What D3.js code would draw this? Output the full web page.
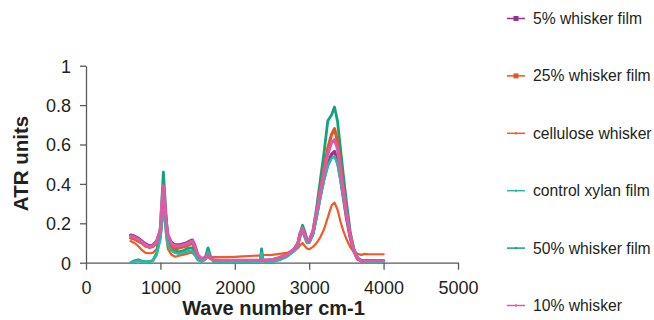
<!DOCTYPE html>
<html><head><meta charset="utf-8">
<script src="https://cdn.jsdelivr.net/npm/d3@7"></script>
<style>body{margin:0;background:#fff}svg{display:block;font-family:"Liberation Sans",Arial,sans-serif}</style>
</head><body><svg id="c" width="654" height="320"></svg>
<script>
const wavenumbers = [600,650,700,750,800,850,900,950,1000,1020,1040,1060,1080,1100,1150,1200,1250,1300,1350,1400,1430,1460,1500,1550,1600,1640,1680,1720,1800,1900,2000,2100,2200,2300,2340,2360,2380,2420,2500,2600,2700,2800,2850,2880,2910,2940,2970,3000,3050,3100,3150,3200,3250,3300,3340,3380,3420,3460,3500,3550,3600,3650,3700,3750,3800,3900,4000];
const seriesNames = ["5% whisker film","25% whisker film","cellulose whisker","control xylan film","50% whisker film","10% whisker"];
const film5 = [0.14,0.135,0.125,0.11,0.095,0.085,0.09,0.11,0.16,0.24,0.33,0.28,0.2,0.14,0.1,0.09,0.09,0.095,0.1,0.11,0.115,0.09,0.04,0.02,0.025,0.04,0.025,0.01,0.008,0.008,0.008,0.008,0.01,0.01,0.01,0.015,0.012,0.012,0.015,0.025,0.04,0.07,0.1,0.15,0.17,0.14,0.11,0.11,0.15,0.24,0.34,0.43,0.5,0.55,0.565,0.52,0.43,0.33,0.23,0.13,0.06,0.02,0.01,0.01,0.01,0.01,0.01];
const film25 = [0.125,0.12,0.11,0.1,0.085,0.078,0.083,0.1,0.15,0.23,0.31,0.26,0.18,0.12,0.08,0.07,0.075,0.08,0.085,0.095,0.1,0.075,0.035,0.015,0.02,0.035,0.02,0.01,0.008,0.008,0.008,0.008,0.008,0.008,0.008,0.012,0.01,0.01,0.012,0.02,0.035,0.065,0.095,0.14,0.165,0.135,0.105,0.105,0.15,0.25,0.37,0.48,0.58,0.65,0.68,0.62,0.5,0.37,0.26,0.14,0.06,0.02,0.01,0.01,0.01,0.01,0.01];
const cellulose = [0.11,0.1,0.085,0.065,0.05,0.048,0.05,0.07,0.13,0.2,0.28,0.22,0.13,0.07,0.04,0.03,0.035,0.04,0.045,0.05,0.05,0.04,0.03,0.025,0.025,0.028,0.028,0.028,0.028,0.028,0.03,0.032,0.034,0.036,0.037,0.038,0.038,0.039,0.04,0.045,0.05,0.06,0.075,0.09,0.1,0.085,0.072,0.068,0.08,0.1,0.13,0.17,0.23,0.29,0.305,0.27,0.21,0.16,0.12,0.08,0.055,0.045,0.04,0.045,0.043,0.043,0.043];
const controlXylan = [0,0.005,0.01,0.005,0.003,0.003,0.01,0.04,0.12,0.2,0.27,0.22,0.14,0.09,0.06,0.05,0.045,0.05,0.055,0.06,0.06,0.04,0.015,0.005,0.015,0.055,0.02,0.005,0.003,0.003,0.003,0.003,0.003,0.003,0.005,0.05,0.01,0.003,0.005,0.015,0.03,0.06,0.09,0.14,0.165,0.13,0.1,0.1,0.14,0.23,0.33,0.42,0.49,0.53,0.54,0.5,0.42,0.33,0.24,0.14,0.07,0.025,0.01,0.008,0.006,0.005,0.005];
const film50 = [0,0.01,0.015,0.008,0.005,0.005,0.012,0.05,0.18,0.32,0.46,0.34,0.2,0.12,0.07,0.06,0.055,0.06,0.07,0.075,0.075,0.05,0.02,0.008,0.02,0.075,0.025,0.005,0.003,0.003,0.003,0.003,0.003,0.003,0.005,0.07,0.015,0.003,0.005,0.015,0.035,0.065,0.1,0.15,0.19,0.16,0.12,0.115,0.16,0.28,0.42,0.56,0.72,0.75,0.79,0.72,0.58,0.44,0.31,0.16,0.07,0.025,0.01,0.01,0.009,0.008,0.008];
const whisker10 = [0.135,0.13,0.12,0.105,0.09,0.08,0.088,0.105,0.17,0.3,0.39,0.31,0.2,0.14,0.095,0.085,0.085,0.09,0.095,0.105,0.11,0.085,0.04,0.02,0.022,0.04,0.025,0.015,0.012,0.012,0.012,0.012,0.012,0.012,0.012,0.014,0.013,0.013,0.015,0.025,0.04,0.07,0.1,0.15,0.175,0.145,0.115,0.11,0.16,0.26,0.36,0.46,0.55,0.61,0.625,0.58,0.47,0.36,0.25,0.14,0.06,0.02,0.01,0.01,0.01,0.01,0.01];
const xTicks = [0,1000,2000,3000,4000,5000];
const yTicks = [0,0.2,0.4,0.6,0.8,1];
const yTickLabels = ["0","0.2","0.4","0.6","0.8","1"];

const seriesValues = [film5, film25, cellulose, controlXylan, film50, whisker10];
const colors = ["#99308f","#e0581f","#f15a24","#2bb8a8","#0fa37f","#dd5aa8"];
const widths = [3.2,3.2,2.2,2.6,2.8,3.2];
const markerSize = [5,5,2,2,2,2];
const drawOrder = [2,4,1,0,3,5];

const svg = d3.select("#c");
const x = d3.scaleLinear().domain([0,5000]).range([86,458]);
const y = d3.scaleLinear().domain([0,1]).range([262.7,65.7]);
const axisColor = "#5a5a5a";
const textColor = "#231f20";

// axes
const xa = svg.append("g").attr("transform",`translate(0,${y(0)})`)
  .call(d3.axisBottom(x).tickValues(xTicks).tickSize(7).tickSizeOuter(0).tickFormat(d3.format("d")));
xa.select(".domain").attr("stroke",axisColor).attr("stroke-width",1.3);
xa.selectAll("line").attr("stroke",axisColor).attr("stroke-width",1.3);
xa.selectAll("text").attr("font-size",18).attr("fill",textColor).attr("y",0).attr("dy",0)
  .attr("transform","translate(0,31.5)").attr("font-family","Liberation Sans, Arial, sans-serif");

const ya = svg.append("g").attr("transform",`translate(${x(0)},0)`)
  .call(d3.axisLeft(y).tickValues(yTicks).tickSize(6).tickSizeOuter(0).tickFormat((d,i)=>yTickLabels[i]));
ya.select(".domain").attr("stroke",axisColor).attr("stroke-width",1.3);
ya.selectAll("line").attr("stroke",axisColor).attr("stroke-width",1.3);
ya.selectAll("text").attr("font-size",18).attr("fill",textColor).attr("x",-15).attr("dy","0.36em")
  .attr("font-family","Liberation Sans, Arial, sans-serif");

// lines
const line = d3.line().x((d,i)=>x(wavenumbers[i])).y(d=>y(d));
drawOrder.forEach(k=>{
  svg.append("path").datum(seriesValues[k]).attr("d",line)
    .attr("fill","none").attr("stroke",colors[k]).attr("stroke-width",widths[k])
    .attr("stroke-linejoin","round").attr("stroke-linecap","round");
});

// axis titles
svg.append("text").attr("x",273.5).attr("y",315).attr("text-anchor","middle")
  .attr("font-size",20).attr("font-weight","bold").attr("fill",textColor).text("Wave number cm-1");
svg.append("text").attr("transform",`translate(28,${(115+212)/2}) rotate(-90)`).attr("text-anchor","middle")
  .attr("font-size",20.5).attr("font-weight","bold").attr("fill",textColor).text("ATR units");

// legend
const lg = svg.append("g");
seriesNames.forEach((name,i)=>{
  const ly = 18.5 + i*57.4;
  lg.append("line").attr("x1",507).attr("x2",525).attr("y1",ly).attr("y2",ly)
    .attr("stroke",colors[i]).attr("stroke-width",1.5);
  const m = markerSize[i];
  lg.append("rect").attr("x",516-m/2).attr("y",ly-m/2).attr("width",m).attr("height",m).attr("fill",colors[i]);
  lg.append("text").attr("x",533).attr("y",ly+5.5).attr("font-size",15.7).attr("fill",textColor).text(name);
});
</script></body></html>
